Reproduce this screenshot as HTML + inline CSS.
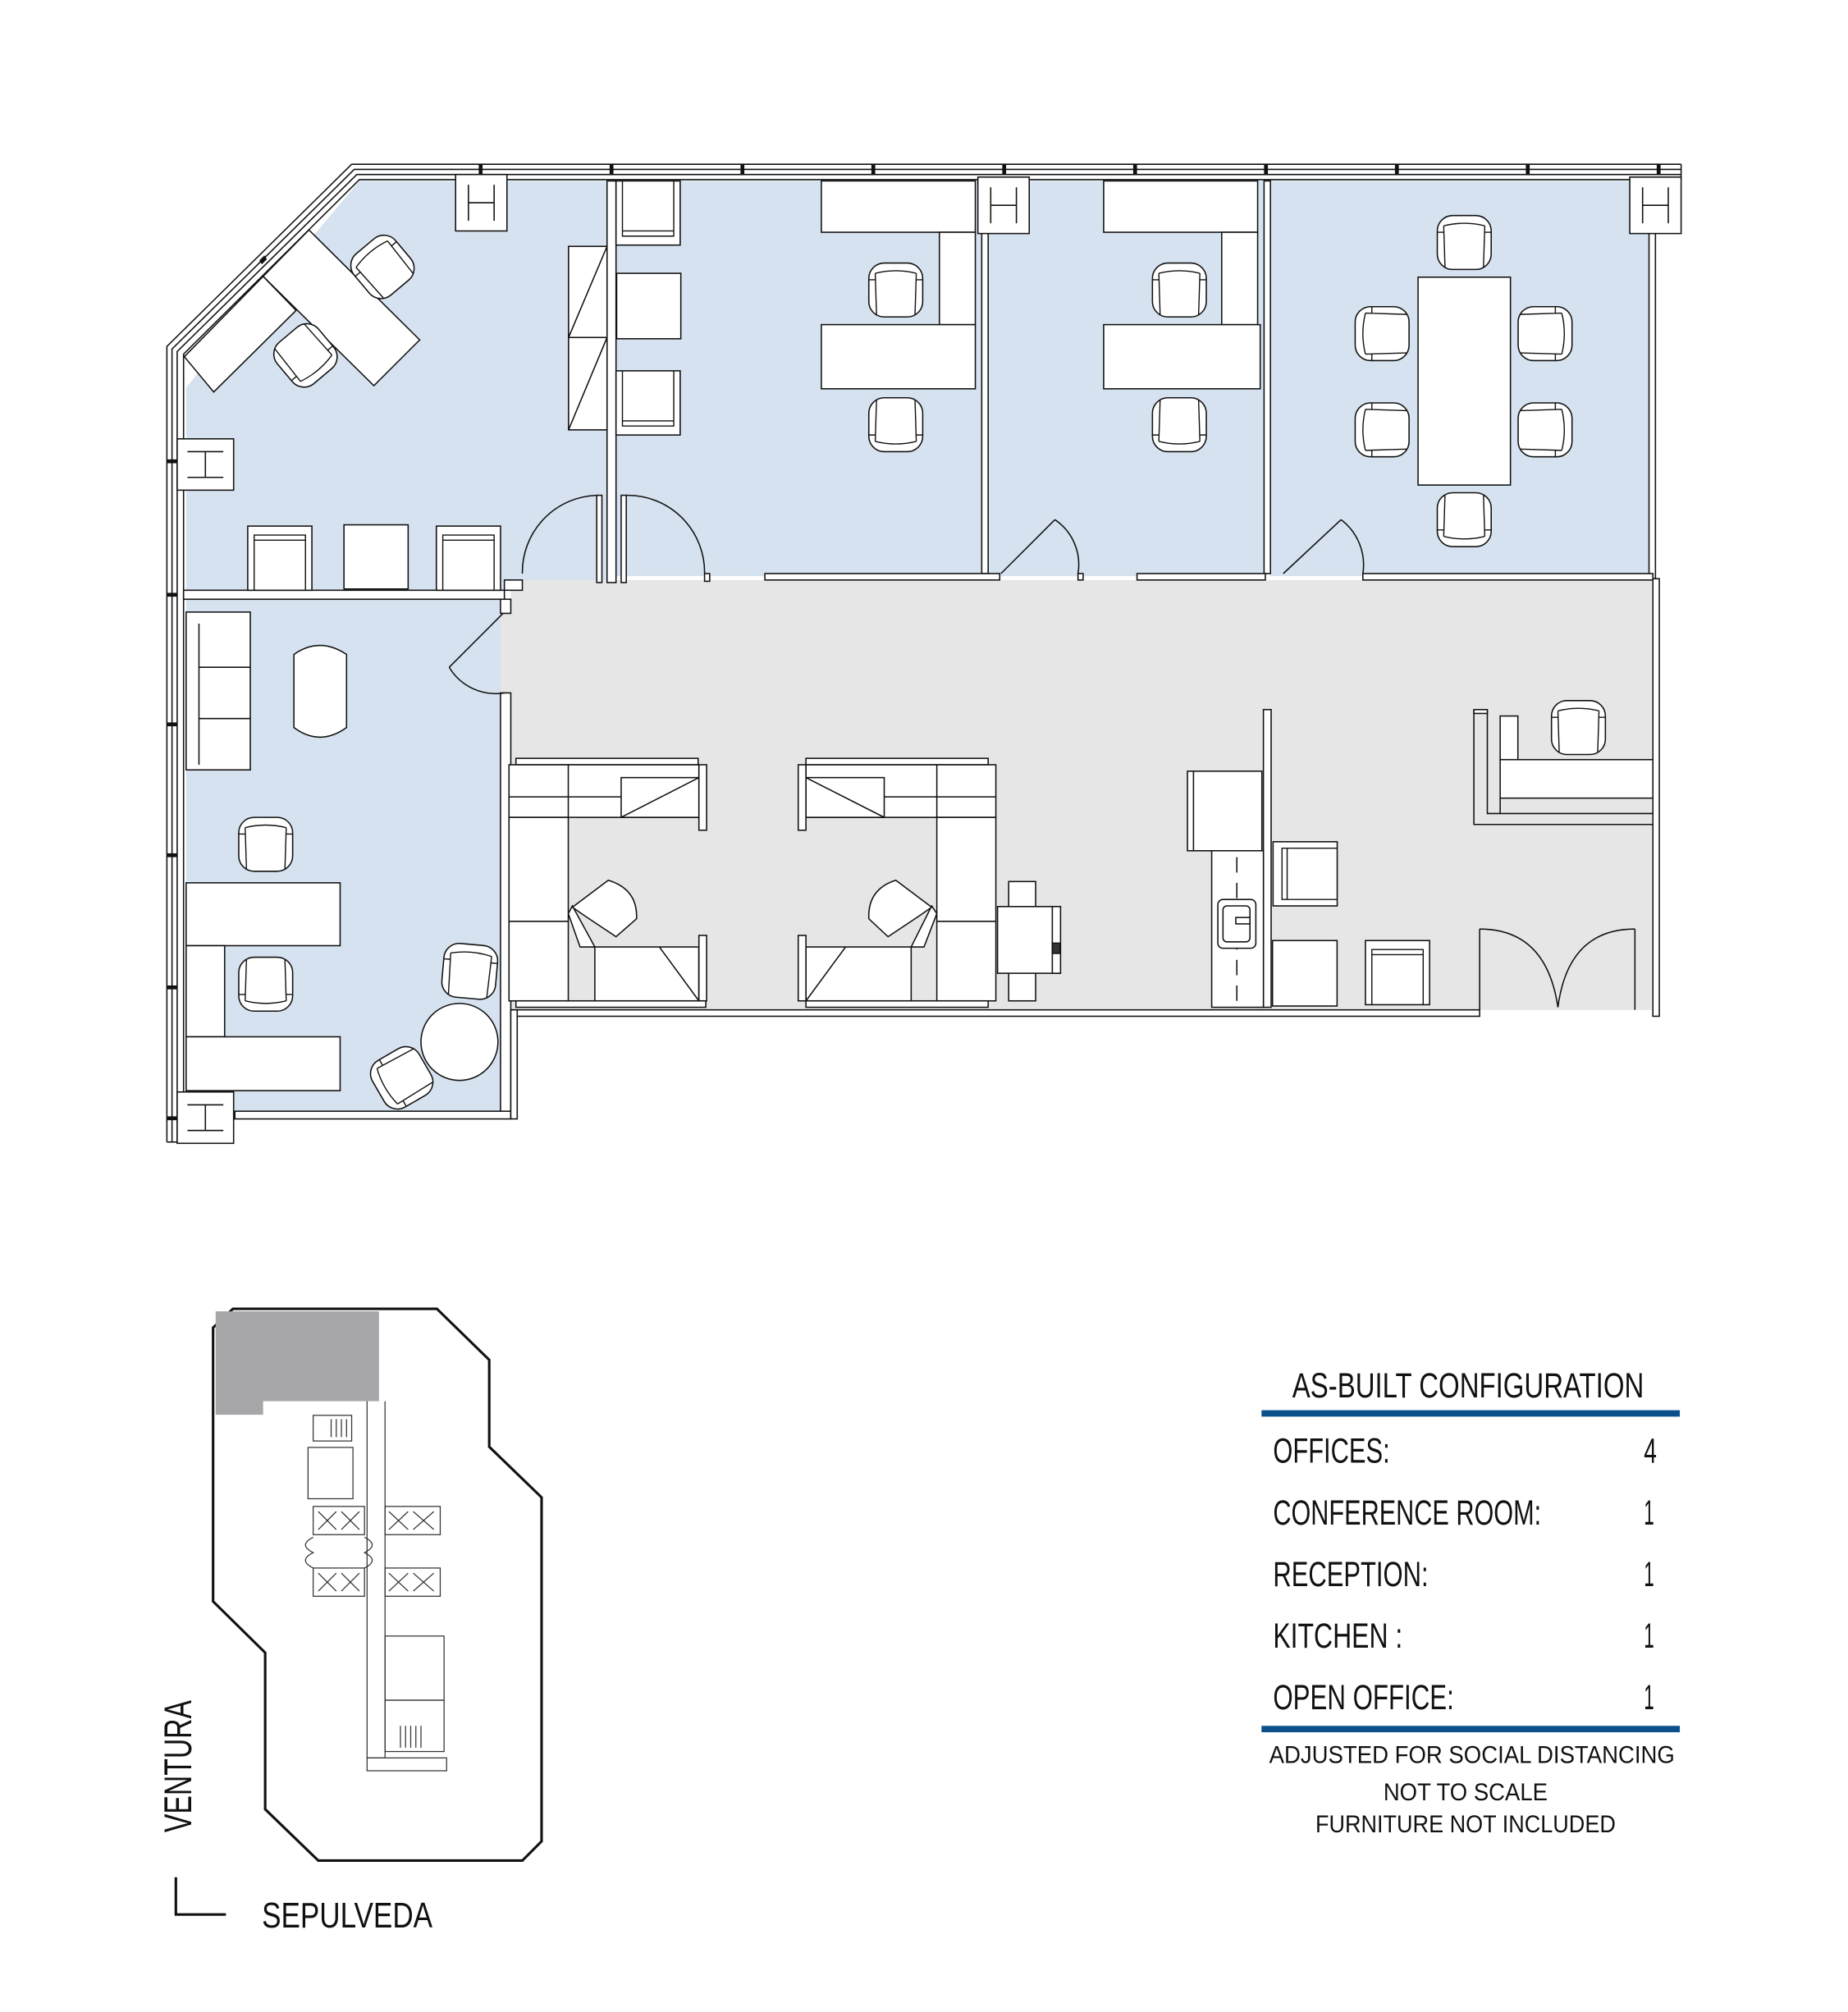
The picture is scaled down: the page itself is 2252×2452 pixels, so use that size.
<!DOCTYPE html>
<html><head><meta charset="utf-8"><style>
html,body{margin:0;padding:0;background:#fff;}
svg{display:block;}
text{font-family:"Liberation Sans Narrow","Liberation Sans",sans-serif;fill:#111;}
</style></head><body>
<svg width="2252" height="2452" viewBox="0 0 1440 1568" xmlns="http://www.w3.org/2000/svg">
<defs>
<g id="ch">
<rect x="-21" y="-21" width="42" height="42" rx="12" fill="#fff" stroke="#111" stroke-width="1"/>
<path d="M-16,-13 Q0,-17 16,-13 M-16,-13 L-15,19 M16,-13 L15,19 M-21,-8 L-16,-8 M21,-8 L16,-8" fill="none" stroke="#111" stroke-width="0.9"/>
</g>
<g id="arm">
<rect x="-25" y="-25" width="50" height="50" fill="#fff" stroke="#111" stroke-width="1"/>
<path d="M-20,-25 V18 H20 V-25 M-20,14 H20" fill="none" stroke="#111" stroke-width="0.9"/>
</g>
<g id="colH">
<rect x="-20" y="-22" width="40" height="44" fill="#fff" stroke="#111" stroke-width="1"/>
<path d="M-10,-14 V14 M10,-14 V14 M-10,0 H10" stroke="#111" stroke-width="1"/>
</g>
<g id="colI">
<rect x="-22" y="-20" width="44" height="40" fill="#fff" stroke="#111" stroke-width="1"/>
<path d="M-14,-10 H14 M-14,10 H14 M0,-10 V10" stroke="#111" stroke-width="1"/>
</g>
</defs>

<!-- FLOORS -->
<g stroke="none">
<polygon points="280,141 473,141 473,460 145,460 145,302" fill="#d6e2ef"/>
<rect x="480" y="141" width="285" height="308" fill="#d6e2ef"/>
<rect x="770" y="141" width="215" height="308" fill="#d6e2ef"/>
<rect x="990" y="141" width="297" height="308" fill="#d6e2ef"/>
<rect x="145" y="467" width="245" height="399" fill="#d6e2ef"/>
<polygon points="398,452 1287,452 1287,787 398,787 398,540 390,540 390,478 398,478" fill="#e6e6e6"/>
</g>

<!-- EXTERIOR WALLS -->
<g fill="none" stroke="#111" stroke-width="1">
<polyline points="1310,128 274,128 130,270 130,890"/>
<polyline points="1310,132 276,132 134,272 134,890"/>
<polyline points="1310,136 278,136 138,274 138,890"/>
<polyline points="1310,140 280,140 143,276 143,852"/>
<line x1="1310" y1="128" x2="1310" y2="140"/>
<line x1="130" y1="890" x2="138" y2="890"/>
</g>
<g fill="#111">
<rect x="373" y="128" width="3" height="8"/><rect x="475" y="128" width="3" height="8"/><rect x="577" y="128" width="3" height="8"/><rect x="679" y="128" width="3" height="8"/><rect x="781" y="128" width="3" height="8"/><rect x="883" y="128" width="3" height="8"/><rect x="985" y="128" width="3" height="8"/><rect x="1087" y="128" width="3" height="8"/><rect x="1189" y="128" width="3" height="8"/><rect x="1291" y="128" width="3" height="8"/>
<rect x="130" y="358" width="8" height="3"/><rect x="130" y="462" width="8" height="3"/><rect x="130" y="563" width="8" height="3"/><rect x="130" y="665" width="8" height="3"/><rect x="130" y="768" width="8" height="3"/><rect x="130" y="870" width="8" height="3"/>
<polygon points="202,203 206,199 208,202 204,206"/>
</g>

<!-- INTERIOR WALLS -->
<g fill="#fff" stroke="#111" stroke-width="1">
<rect x="473" y="141" width="7" height="313"/>
<rect x="765" y="141" width="5" height="306"/>
<rect x="985" y="141" width="5" height="306"/>
<rect x="1285" y="141" width="5" height="310"/>
<rect x="1288" y="451" width="5" height="341"/>
<rect x="143" y="460" width="250" height="7"/>
<rect x="390" y="467" width="8" height="11"/>
<rect x="390" y="540" width="8" height="330"/>
<rect x="183" y="866" width="215" height="6"/>
<rect x="398" y="787" width="755" height="5"/>
<rect x="398" y="787" width="5" height="85"/>
<rect x="393" y="452" width="14" height="8"/>
<rect x="465" y="386" width="4" height="68"/>
<rect x="484" y="386" width="4" height="68"/>
<rect x="549" y="447" width="4" height="6"/>
<rect x="596" y="447" width="183" height="5"/>
<rect x="840" y="447" width="4" height="5"/>
<rect x="886" y="447" width="100" height="5"/>
<rect x="1062" y="447" width="226" height="5"/>
<rect x="984.5" y="553" width="6" height="232"/>
</g>

<!-- DOORS -->
<g fill="none" stroke="#111" stroke-width="1">
<path d="M407,447 A60,60 0 0 1 465,386"/>
<path d="M549,447 A60,60 0 0 0 488,386"/>
<path d="M780,447 L822,405 M822,405 A42,42 0 0 1 840,447"/>
<path d="M1000,447 L1045,405 M1045,405 A44,44 0 0 1 1062,447"/>
<path d="M392,478 L350,520 M350,520 A42,42 0 0 0 393,540"/>
<path d="M1153,724 Q1205,724 1214,785 M1274,724 Q1222,724 1214,785"/>
<line x1="1153" y1="724" x2="1153" y2="787"/><line x1="1274" y1="724" x2="1274" y2="787"/>
</g>

<!-- COLUMNS -->
<use href="#colH" x="375" y="158"/>
<use href="#colH" x="782" y="160"/>
<use href="#colH" x="1290" y="160"/>
<use href="#colI" x="160" y="362"/>
<use href="#colI" x="160" y="871"/>

<g fill="#fff" stroke="#111" stroke-width="1">
<!-- Office 1 -->
<polygon points="240.7,179.2 327,264.9 291.3,300.6 205,215.4"/>
<polygon points="205,215.4 230.7,241.9 166.5,305.5 143.6,278"/>
<rect x="443" y="192" width="30" height="71"/><rect x="443" y="263" width="30" height="72"/>
<path d="M443,263 L473,192 M443,335 L473,263" fill="none"/>
<use href="#arm" x="505" y="166"/>
<rect x="480.5" y="213" width="50" height="51"/>
<use href="#arm" x="505" y="314"/>
<use href="#arm" x="218" y="435" transform="rotate(180 218 435)"/>
<rect x="268" y="409" width="50" height="50"/>
<use href="#arm" x="365" y="435" transform="rotate(180 365 435)"/>
<use href="#ch" x="298" y="208" transform="rotate(-40 298 208)"/>
<use href="#ch" x="238" y="277" transform="rotate(140 238 277)"/>

<!-- Office 2 -->
<rect x="640" y="141" width="120" height="40"/>
<rect x="732" y="181" width="28" height="72"/>
<rect x="640" y="253" width="120" height="50"/>
<use href="#ch" x="698" y="226"/>
<use href="#ch" x="698" y="331" transform="rotate(180 698 331)"/>
<!-- Office 3 -->
<rect x="860" y="141" width="120" height="40"/>
<rect x="952" y="181" width="28" height="72"/>
<rect x="860" y="253" width="122" height="50"/>
<use href="#ch" x="919" y="226"/>
<use href="#ch" x="919" y="331" transform="rotate(180 919 331)"/>
<!-- Conference -->
<rect x="1105" y="216" width="72" height="162"/>
<use href="#ch" x="1141" y="189"/>
<use href="#ch" x="1141" y="405" transform="rotate(180 1141 405)"/>
<use href="#ch" x="1077" y="260" transform="rotate(-90 1077 260)"/>
<use href="#ch" x="1077" y="335" transform="rotate(-90 1077 335)"/>
<use href="#ch" x="1204" y="260" transform="rotate(90 1204 260)"/>
<use href="#ch" x="1204" y="335" transform="rotate(90 1204 335)"/>

<!-- Lower-left office -->
<rect x="145" y="477" width="50" height="123"/>
<path d="M155,486 V596 M155,520 H195 M155,560 H195" fill="none"/>
<path d="M229,510 Q249,496 270,510 V567 Q249,582 229,567 Z"/>
<use href="#ch" x="207" y="658"/>
<rect x="145" y="688" width="120" height="49"/>
<rect x="145" y="737" width="30" height="71"/>
<rect x="145" y="808" width="120" height="42"/>
<use href="#ch" x="207" y="767" transform="rotate(180 207 767)"/>
<circle cx="358" cy="812" r="30"/>
<use href="#ch" x="366" y="757" transform="rotate(5 366 757)"/>
<use href="#ch" x="313" y="840" transform="rotate(-120 313 840)"/>

<!-- Cubicle 1 -->
<rect x="402" y="591" width="142" height="5"/>
<rect x="396.6" y="596" width="148" height="41"/>
<path d="M396.6,621 H544.6 M442.8,596 V637" fill="none"/>
<rect x="484" y="606" width="60.6" height="31"/>
<path d="M484,637 L544.6,606" fill="none"/>
<rect x="544.6" y="596" width="6" height="51"/>
<rect x="396.6" y="637" width="46.2" height="143"/>
<line x1="396.6" y1="718" x2="442.8" y2="718"/>
<rect x="463.5" y="738" width="81" height="42"/>
<path d="M513.8,738 L544.6,780" fill="none"/>
<polygon points="442.8,712 452,738 463.5,738 446,706"/>
<rect x="544.6" y="729" width="6" height="51"/>
<rect x="402" y="780" width="148" height="5"/>
<path d="M456,714 L446,707 L474,686 Q497,693 496,716 L480,730 Z"/>
<!-- Cubicle 2 -->
<rect x="628" y="591" width="142" height="5"/>
<rect x="628" y="596" width="148" height="41"/>
<path d="M628,621 H776 M730,596 V637" fill="none"/>
<rect x="628" y="606" width="61" height="31"/>
<path d="M628,606 L689,637" fill="none"/>
<rect x="622" y="596" width="6" height="51"/>
<rect x="730" y="637" width="46" height="143"/>
<line x1="730" y1="718" x2="776" y2="718"/>
<rect x="628" y="738" width="82" height="42"/>
<path d="M628,780 L658.9,738" fill="none"/>
<polygon points="730,712 720,738 710,738 726,706"/>
<rect x="622" y="729" width="6" height="51"/>
<rect x="628" y="780" width="142" height="5"/>
<path d="M716,714 L726,707 L698,686 Q676,693 677,716 L692,730 Z"/>
<!-- Printer -->
<rect x="786" y="687" width="21" height="93"/>
<rect x="777.3" y="706.5" width="49" height="52"/>
<rect x="820" y="706.5" width="6.4" height="52"/>
<rect x="820" y="735" width="6" height="8" fill="#333"/>
<!-- Kitchen -->
<rect x="925.3" y="601" width="58" height="62"/>
<line x1="930" y1="601" x2="930" y2="663"/>
<rect x="944.2" y="663" width="40.3" height="122"/>
<path d="M963.8,668 V785" fill="none" stroke-dasharray="12,8"/>
<rect x="949" y="701" width="29.6" height="38" rx="4"/>
<rect x="953" y="706" width="21" height="28" rx="3"/>
<rect x="963" y="715" width="11" height="5"/>
<use href="#arm" x="1017" y="681" transform="rotate(90 1017 681)"/>
<rect x="991.6" y="733" width="50.3" height="51"/>
<use href="#arm" x="1089" y="758" transform="rotate(180 1089 758)"/>
<!-- Reception -->
<polyline points="1148.5,553 1148.5,642.5 1288,642.5" fill="none"/>
<polyline points="1159,553 1159,634 1288,634" fill="none"/>
<rect x="1148.5" y="553" width="10.5" height="3"/>
<rect x="1169" y="558" width="13.8" height="34"/>
<rect x="1169" y="592" width="119" height="30"/>
<line x1="1169" y1="622" x2="1169" y2="634"/>
<use href="#ch" x="1230" y="567"/>
</g>

<!-- MINIMAP -->
<polygon points="181.5,1020 340.4,1020 381.2,1059.8 381.2,1127.5 422,1167 422,1435 407,1450 248,1450 206.6,1410 206.6,1288 166,1248 166,1034.7" fill="#fff" stroke="#111" stroke-width="2"/>
<polygon points="168,1022 295.3,1022 295.3,1092 205,1092 205,1102.5 168,1102.5" fill="#a6a6a8"/>
<g fill="none" stroke="#333" stroke-width="0.8">
<polyline points="286,1092 286,1370 300,1370 300,1092"/>
<rect x="244" y="1103" width="30" height="20"/>
<rect x="240" y="1128" width="35" height="40"/>
<rect x="244" y="1174" width="40" height="22"/>
<path d="M248,1178 L262,1192 M262,1178 L248,1192 M266,1178 L280,1192 M280,1178 L266,1192"/>
<rect x="244" y="1222" width="40" height="22"/>
<path d="M248,1226 L262,1240 M262,1226 L248,1240 M266,1226 L280,1240 M280,1226 L266,1240"/>
<rect x="300" y="1174" width="43" height="22"/>
<path d="M303,1178 L318,1192 M318,1178 L303,1192 M322,1178 L338,1192 M338,1178 L322,1192"/>
<rect x="300" y="1222" width="43" height="22"/>
<path d="M303,1226 L318,1240 M318,1226 L303,1240 M322,1226 L338,1240 M338,1226 L322,1240"/>
<path d="M244,1198 Q232,1204 244,1210 Q232,1216 244,1222 M284,1198 Q296,1204 284,1210 Q296,1216 284,1222"/>
<rect x="300" y="1275" width="46" height="50"/>
<rect x="300" y="1325" width="46" height="40"/>
<path d="M312,1345 V1362 M316,1345 V1362 M320,1345 V1362 M324,1345 V1362 M328,1345 V1362"/>
<path d="M266,1106 V1120 M270,1106 V1120 M262,1106 V1120 M258,1106 V1120"/>
<rect x="286" y="1370" width="62" height="10"/>
</g>
<g fill="none" stroke="#111" stroke-width="2">
<polyline points="137,1463 137,1492 176,1492"/>
</g>
<text x="0" y="0" font-size="30" textLength="103" lengthAdjust="spacingAndGlyphs" transform="translate(149,1428) rotate(-90)">VENTURA</text>
<text x="204" y="1502" font-size="28" textLength="133" lengthAdjust="spacingAndGlyphs">SEPULVEDA</text>

<!-- LEGEND -->
<text x="1007" y="1089" font-size="27" textLength="274" lengthAdjust="spacingAndGlyphs">AS-BUILT CONFIGURATION</text>
<rect x="983" y="1099" width="326" height="5" fill="#0b4f8c"/>
<g font-size="27">
<text x="992" y="1140" textLength="91" lengthAdjust="spacingAndGlyphs">OFFICES:</text><text x="1281" y="1140" textLength="10" lengthAdjust="spacingAndGlyphs">4</text>
<text x="992" y="1188" textLength="209" lengthAdjust="spacingAndGlyphs">CONFERENCE ROOM:</text><text x="1281" y="1188" textLength="8" lengthAdjust="spacingAndGlyphs">1</text>
<text x="992" y="1236" textLength="121" lengthAdjust="spacingAndGlyphs">RECEPTION:</text><text x="1281" y="1236" textLength="8" lengthAdjust="spacingAndGlyphs">1</text>
<text x="992" y="1284" textLength="101" lengthAdjust="spacingAndGlyphs">KITCHEN :</text><text x="1281" y="1284" textLength="8" lengthAdjust="spacingAndGlyphs">1</text>
<text x="992" y="1332" textLength="141" lengthAdjust="spacingAndGlyphs">OPEN OFFICE:</text><text x="1281" y="1332" textLength="8" lengthAdjust="spacingAndGlyphs">1</text>
</g>
<rect x="983" y="1345" width="326" height="5" fill="#0b4f8c"/>
<g font-size="19">
<text x="989" y="1374" textLength="316" lengthAdjust="spacingAndGlyphs">ADJUSTED FOR SOCIAL DISTANCING</text>
<text x="1078" y="1403" textLength="128" lengthAdjust="spacingAndGlyphs">NOT TO SCALE</text>
<text x="1025" y="1428" textLength="234" lengthAdjust="spacingAndGlyphs">FURNITURE NOT INCLUDED</text>
</g>
</svg>
</body></html>
